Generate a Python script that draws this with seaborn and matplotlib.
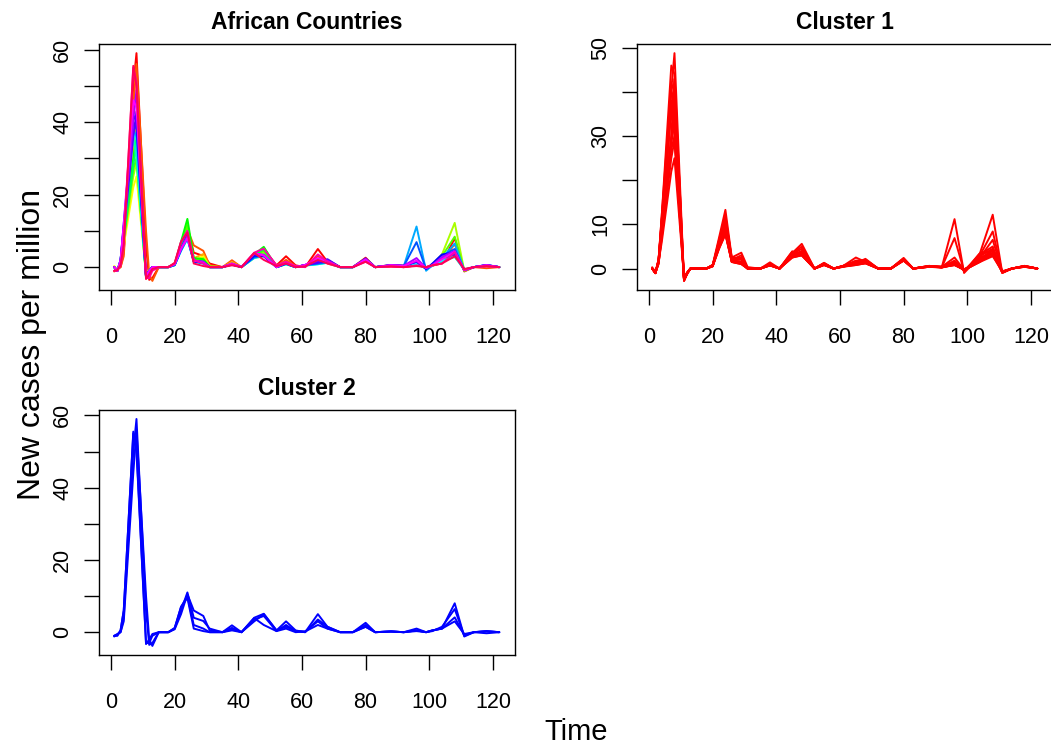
import colorsys
import matplotlib
matplotlib.use("Agg")
import matplotlib.pyplot as plt
import numpy as np
import pandas as pd
import seaborn as sns

# ---------------- data ----------------
time_points = [1, 2, 3, 4, 7, 8, 11, 12, 13, 15, 18, 20, 22, 24, 26, 29, 31,
               35, 38, 41, 45, 48, 52, 55, 58, 61, 65, 68, 72, 76, 80, 83, 88, 92,
               96, 99, 101, 104, 108, 111, 114, 118, 122]

country_01 = [-1, -0.5, 0, 4, 50, 59, 6, -3.5, -3, 0, 0, 1, 6, 11, 4, 3.1, 1,
              0, 1.2, 0, 3, 5, 0.5, 3, 0.5, 0, 5, 1.5, 0, 0, 2.6, 0, 0.2, 0,
              1, 0, 0.5, 1, 8, -1.2, 0, 0.3, 0]
country_02 = [-1.2, -0.6, 0, 3, 44, 56, 10, -2, -3.8, 0, 0, 0.8, 5, 10.5, 6, 4.5, 0.5,
              0, 1.9, 0, 3.5, 4.5, 0.3, 2, 0.3, 0.2, 3, 1, 0, 0, 2, 0, 0.2, 0,
              0.5, 0, 0.3, 1.5, 6.4, -1, 0, -0.3, 0]
country_03 = [0, -1, 1.5, 10, 30, 43, -2.5, -1, 0, 0, 0, 0.8, 6, 11, 2.5, 3.6, 0.3,
              0, 1.4, 0, 3, 3.8, 0, 1, 0, 0.5, 1, 1.5, 0, 0, 2, 0, 0.5, 0.3,
              1, -0.3, 0.5, 2, 4.3, -1, 0, 0.5, 0]
country_04 = [0.3, -0.8, 1.5, 6, 22, 25, -2, -0.8, 0, 0, 0, 0.5, 5.5, 10.5, 2, 3, 0,
              0, 1, 0, 2.5, 3, 0, 0.8, 0, 0.4, 1, 1.2, 0, 0, 1.8, 0, 0.4, 0.3,
              0.8, -0.2, 0.4, 1.5, 3.5, -0.8, 0, 0.4, 0]
country_05 = [0, -1, 1.2, 7, 25, 29, -2.2, -1, 0, 0, 0, 0.6, 6.5, 12, 2.2, 2.5, 0,
              0, 0.8, 0, 3, 4, 0, 1.2, 0, 0.5, 1.2, 2, 0, 0, 2.2, 0, 0.6, 0.4,
              1.5, -0.4, 0.8, 3.5, 12.2, -1, 0, 0.5, 0]
country_06 = [0, -0.9, 1, 7.5, 27, 30, -2.3, -1.2, 0, 0, 0, 0.7, 6.2, 11.5, 2, 2, 0.2,
              0, 0.9, 0, 3.2, 4.5, 0, 0.9, 0, 0.5, 1, 1.8, 0, 0, 2, 0, 0.5, 0.4,
              1.2, -0.3, 0.6, 3, 8.4, -0.9, 0, 0.4, 0]
country_07 = [0, -1, 1.5, 8.5, 30, 36, -2.6, -1, 0, 0, 0, 0.8, 7, 13.3, 2.5, 2.2, 0,
              0, 1, 0, 3.5, 5.6, 0, 1.2, 0, 0.6, 1.2, 2, 0, 0, 2.3, 0, 0.5, 0.3,
              1, -0.3, 0.5, 2, 4, -0.8, 0, 0.5, 0]
country_08 = [0, -1, 1.2, 8, 28, 34, -2.4, -1, 0, 0, 0, 0.6, 5.5, 10, 1.8, 1.5, 0,
              0, 0.8, 0, 3.3, 5, 0, 1, 0, 0.5, 1, 1.5, 0, 0, 2, 0, 0.4, 0.3,
              0.8, -0.2, 0.5, 1.8, 3.5, -0.7, 0, 0.4, 0]
country_09 = [0, -1, 2, 10, 36, 30, -2.5, -1, 0, 0, 0, 0.5, 5, 9.5, 1.5, 1.2, 0,
              0, 0.7, 0, 2.8, 3.5, 0, 0.8, 0, 0.4, 0.8, 1.2, 0, 0, 1.8, 0, 0.4, 0.3,
              0.8, -0.3, 0.4, 1.5, 2.8, -0.6, 0, 0.5, 0]
country_10 = [0, -1, 2, 10.5, 37, 35, -2.5, -1.2, 0, 0, 0, 0.5, 4.5, 7.7, 1.5, 1, 0,
              0, 0.8, 0, 2.5, 3, 0, 0.8, 0, 0.5, 0.8, 1.2, 0, 0, 1.8, 0, 0.4, 0.2,
              1, -0.3, 0.4, 1.8, 3, -0.8, 0, 0.6, 0]
country_11 = [0, -1, 1.8, 11, 38, 36, -2.6, -1, 0, 0, 0, 0.6, 4.5, 8, 1.5, 1, 0,
              0, 0.7, 0, 2.6, 3.2, 0, 0.9, 0, 0.5, 0.9, 1.3, 0, 0, 2, 0, 0.5, 0.3,
              11.2, -1, 0.5, 2.5, 6.5, -0.8, 0, 0.6, 0]
country_12 = [0, -1.1, 2, 11, 40, 38, -2.7, -1, 0, 0, 0, 0.6, 4.8, 8, 1.6, 1.2, 0,
              0, 0.7, 0, 2.8, 3.2, 0, 1, 0, 0.6, 1, 1.4, 0, 0, 2, 0, 0.5, 0.3,
              6.9, -0.6, 0.8, 3.1, 5, -0.9, 0, 0.5, 0]
country_13 = [0, -1, 1.8, 12, 42, 40, -2.8, -1, 0, 0, 0, 0.7, 5, 8.5, 1.6, 1.2, 0,
              0, 0.8, 0, 3.2, 3, 0, 1, 0, 0.6, 1.5, 1.5, 0, 0, 2, 0, 0.5, 0.3,
              1.5, -0.5, 1, 3.5, 4, -0.8, 0, 0.5, 0]
country_14 = [0, -1, 1.5, 9.5, 36, 42.8, -2.6, -1, 0, 0, 0, 0.7, 5.2, 9, 1.8, 1.5, 0,
              0, 0.9, 0, 3.5, 3.2, 0, 1, 0, 0.6, 1.2, 2.2, 0, 0, 2.4, 0, 0.6, 0.4,
              1.5, -0.4, 0.6, 2.5, 3.5, -0.7, 0, 0.6, 0]
country_15 = [0, -1, 1.7, 11, 40.5, 48.8, -2.8, -1.2, 0, 0, 0, 0.8, 5, 8.5, 1.8, 1.5, 0,
              0, 1, 0, 3.8, 3.4, 0, 1.2, 0, 0.6, 1.8, 1.8, 0, 0, 2.2, 0, 0.6, 0.4,
              2.5, -0.3, 0.6, 2.8, 4.5, -0.8, 0, 0.6, 0]
country_16 = [0, -1, 2, 12, 46, 44, -2.7, -1, 0, 0, 0, 0.8, 5, 8, 1.8, 1.2, 0,
              0, 1, 0, 3.9, 3.2, 0, 1.3, 0, 0.6, 2.5, 1.5, 0, 0, 2.1, 0, 0.5, 0.3,
              1.8, -0.2, 0.5, 2.2, 4.2, -0.8, 0, 0.5, 0]
country_17 = [-1, -1, 0.5, 6, 55, 51, -3, -3, -1, 0, 0, 1, 7, 10, 2, 1, 0,
              0, 0.8, 0, 4, 5.1, 0.5, 1.5, 0.3, 0, 3.5, 1.5, 0, 0, 1.5, 0, 0.2, 0,
              0.5, 0, 0.5, 1, 4.1, -0.8, 0, 0.2, 0]
country_18 = [-1, -0.8, 0.5, 6, 55.5, 50, -3.3, -2, -0.5, 0, 0, 1.2, 7, 9.5, 1, 0.3, 0,
              0, 0.5, 0, 3.9, 2, 0.3, 1, 0, 0.2, 2, 1, 0, 0, 1.5, 0, 0.2, 0,
              0.3, 0, 0.5, 1, 3, -0.5, 0, 0.3, 0]

country_names = [f"country_{i:02d}" for i in range(1, 19)]
country_series = [country_01, country_02, country_03, country_04, country_05, country_06,
                  country_07, country_08, country_09, country_10, country_11, country_12,
                  country_13, country_14, country_15, country_16, country_17, country_18]
cluster_labels = [2, 2, 1, 1, 1, 1, 1, 1, 1, 1, 1, 1, 1, 1, 1, 1, 2, 2]

panel_titles = ["African Countries", "Cluster 1", "Cluster 2"]
x_ticks = [0, 20, 40, 60, 80, 100, 120]
y_ticks_60 = [0, 10, 20, 30, 40, 50, 60]
y_labels_60 = ["0", "", "20", "", "40", "", "60"]
y_ticks_50 = [0, 10, 20, 30, 40, 50]
y_labels_50 = ["0", "10", "", "30", "", "50"]

# ---------------- build data frame ----------------
rows = []
for name, series, cl in zip(country_names, country_series, cluster_labels):
    for t, v in zip(time_points, series):
        rows.append({"country": name, "time": t, "value": v, "cluster": cl})
df = pd.DataFrame(rows)

n = len(country_names)
rainbow = [colorsys.hsv_to_rgb(i / n, 1.0, 1.0) for i in range(n)]
pal_all = dict(zip(country_names, rainbow))

# ---------------- style ----------------
sns.set_theme(style="ticks")
plt.rcParams["font.family"] = ["Liberation Sans", "DejaVu Sans"]
plt.rcParams["axes.edgecolor"] = "black"
plt.rcParams["axes.linewidth"] = 1.0
plt.rcParams["text.color"] = "black"
plt.rcParams["axes.labelcolor"] = "black"

fig = plt.figure(figsize=(10.51, 7.45), dpi=100)
fig.patch.set_facecolor("white")

ax1 = fig.add_axes([0.094, 0.6107, 0.3957, 0.3302])
ax2 = fig.add_axes([0.6059, 0.6107, 0.3957, 0.3302])
ax3 = fig.add_axes([0.094, 0.1208, 0.3957, 0.3290])

lw = 1.4

sns.lineplot(data=df, x="time", y="value", hue="country", hue_order=country_names,
             palette=pal_all, estimator=None, sort=False, legend=False,
             linewidth=lw, ax=ax1)

d1 = df[df["cluster"] == 1]
names1 = [c for c, k in zip(country_names, cluster_labels) if k == 1]
sns.lineplot(data=d1, x="time", y="value", hue="country", hue_order=names1,
             palette={c: "#FF0000" for c in names1}, estimator=None, sort=False,
             legend=False, linewidth=lw, ax=ax2)

d2 = df[df["cluster"] == 2]
names2 = [c for c, k in zip(country_names, cluster_labels) if k == 2]
sns.lineplot(data=d2, x="time", y="value", hue="country", hue_order=names2,
             palette={c: "#0000FF" for c in names2}, estimator=None, sort=False,
             legend=False, linewidth=lw, ax=ax3)

for ax, title, yt, yl in [(ax1, panel_titles[0], y_ticks_60, y_labels_60),
                          (ax2, panel_titles[1], y_ticks_50, y_labels_50),
                          (ax3, panel_titles[2], y_ticks_60, y_labels_60)]:
    ax.margins(x=0.04, y=0.04)
    ax.autoscale_view()
    ax.set_facecolor("white")
    ax.set_xlabel("")
    ax.set_ylabel("")
    ax.set_xticks(x_ticks)
    ax.set_xticklabels([str(v) for v in x_ticks])
    ax.set_yticks(yt)
    ax.set_yticklabels(yl, rotation=90, va="center")
    ax.tick_params(axis="both", direction="out", length=10.5, width=1.0,
                   labelsize=15.5, colors="black")
    ax.tick_params(axis="x", pad=16)
    ax.tick_params(axis="y", pad=8)
    for sp in ax.spines.values():
        sp.set_visible(True)
        sp.set_color("black")
        sp.set_linewidth(1.0)
    ax.grid(False)
    ax.set_title(title, fontsize=16.5, fontweight="bold", pad=11, color="black")

fig.text(0.03, 0.537, "New cases per million", rotation=90, ha="center",
         va="center", fontsize=23, color="black")
fig.text(0.548, 0.018, "Time", ha="center", va="center", fontsize=21, color="black")

fig.savefig("out.png", dpi=100, facecolor="white")
